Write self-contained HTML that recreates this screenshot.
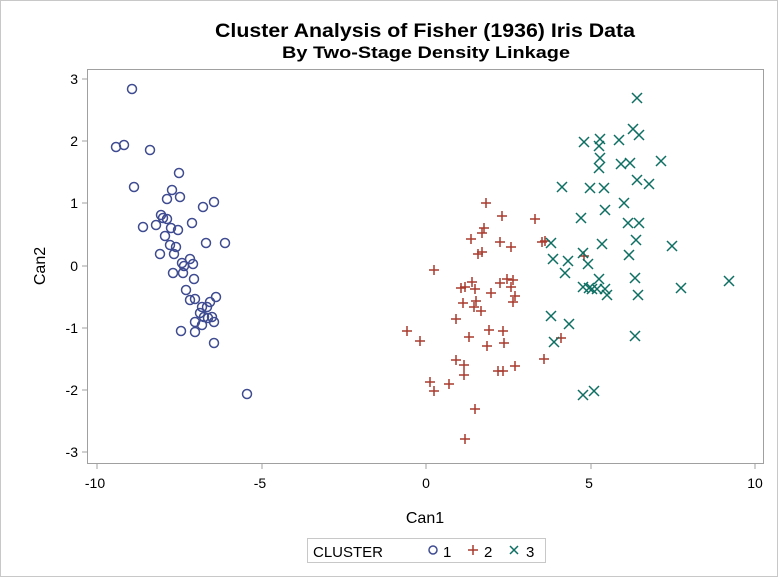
<!DOCTYPE html><html><head><style>body{margin:0;background:#fff}svg{display:block}</style></head><body>
<svg width="778" height="577" xmlns="http://www.w3.org/2000/svg" font-family="Liberation Sans, Arial, sans-serif">
<rect x="0.5" y="0.5" width="777" height="576" fill="#fff" stroke="#c8c8c8"/>
<text x="215" y="37" font-size="19" font-weight="bold" textLength="420" lengthAdjust="spacingAndGlyphs">Cluster Analysis of Fisher (1936) Iris Data</text>
<text x="282" y="58" font-size="17" font-weight="bold" textLength="288" lengthAdjust="spacingAndGlyphs">By Two-Stage Density Linkage</text>
<rect x="87.5" y="69.5" width="676" height="394" fill="none" stroke="#a0a0a0"/>
<g stroke="#a0a0a0">
<line x1="82" x2="87" y1="79" y2="79"/><line x1="82" x2="87" y1="141" y2="141"/><line x1="82" x2="87" y1="203" y2="203"/><line x1="82" x2="87" y1="266" y2="266"/><line x1="82" x2="87" y1="328" y2="328"/><line x1="82" x2="87" y1="390" y2="390"/><line x1="82" x2="87" y1="452" y2="452"/>
<line x1="97" x2="97" y1="464" y2="469"/><line x1="262" x2="262" y1="464" y2="469"/><line x1="426" x2="426" y1="464" y2="469"/><line x1="591" x2="591" y1="464" y2="469"/><line x1="755" x2="755" y1="464" y2="469"/>
</g>
<g font-size="14" text-anchor="end">
<text x="78" y="84">3</text><text x="78" y="146">2</text><text x="78" y="208">1</text><text x="78" y="271">0</text><text x="78" y="333">-1</text><text x="78" y="395">-2</text><text x="78" y="457">-3</text>
</g>
<g font-size="14" text-anchor="middle">
<text x="95" y="488">-10</text><text x="260" y="488">-5</text><text x="426" y="488">0</text><text x="589" y="488">5</text><text x="755" y="488">10</text>
<text x="425" y="523" font-size="16">Can1</text>
</g>
<text transform="translate(45,266) rotate(-90)" text-anchor="middle" font-size="16">Can2</text>
<g fill="none" stroke="#3f4c91" stroke-width="1.5" id="c1"></g>
<g stroke="#a83a2e" stroke-width="1.5" id="c2"></g>
<g stroke="#0d6e62" stroke-width="1.5" id="c3"></g>
<rect x="307.5" y="538.5" width="238" height="24" fill="#fff" stroke="#c8c8c8"/>
<text x="313" y="557" font-size="15">CLUSTER</text>
<circle cx="433" cy="550" r="4" fill="none" stroke="#3f4c91" stroke-width="1.5"/>
<text x="443" y="557" font-size="15">1</text>
<path d="M468 550h10M473 545v10" stroke="#a83a2e" stroke-width="1.5"/>
<text x="484" y="557" font-size="15">2</text>
<path d="M510 546l8 8M518 546l-8 8" stroke="#0d6e62" stroke-width="1.5"/>
<text x="526" y="557" font-size="15">3</text>
</svg>
<script>
var ns="http://www.w3.org/2000/svg";
var c1=[[116,147],[124,145],[132,89],[150,150],[134,187],[179,173],[172,190],[167,199],[180,197],[203,207],[214,202],[161,215],[163,218],[167,219],[143,227],[156,225],[192,223],[171,228],[178,230],[165,236],[170,245],[176,247],[160,254],[174,254],[206,243],[225,243],[190,259],[182,263],[193,264],[184,266],[173,273],[183,273],[194,279],[186,290],[190,300],[195,299],[216,297],[210,302],[202,307],[207,307],[200,313],[204,317],[212,317],[208,318],[195,322],[202,325],[214,322],[181,331],[195,332],[214,343],[247,394]];
var c2=[[486,203],[502,216],[535,219],[484,228],[482,233],[471,239],[500,242],[511,247],[542,242],[545,241],[478,254],[482,252],[434,270],[584,256],[472,282],[461,288],[465,287],[475,289],[500,283],[507,279],[513,280],[511,287],[491,293],[515,296],[513,302],[463,303],[476,301],[474,307],[481,311],[456,319],[407,331],[420,341],[469,337],[489,330],[503,331],[487,346],[504,343],[561,338],[544,359],[456,360],[464,365],[464,375],[498,371],[503,371],[515,366],[430,382],[449,384],[434,391],[475,409],[465,439]];
var c3=[[637,98],[633,129],[639,135],[584,142],[600,139],[599,146],[619,140],[600,158],[599,168],[621,164],[630,163],[661,161],[562,187],[590,188],[604,188],[637,180],[649,184],[624,203],[605,210],[581,218],[628,223],[639,223],[636,240],[602,244],[672,246],[551,243],[629,255],[553,259],[568,261],[583,253],[588,264],[565,273],[599,279],[635,278],[583,287],[589,288],[592,289],[597,289],[605,289],[607,295],[638,295],[681,288],[729,281],[551,316],[569,324],[554,342],[635,336],[583,395],[594,391]];
var g1=document.getElementById("c1"),g2=document.getElementById("c2"),g3=document.getElementById("c3");
c1.forEach(function(p){var e=document.createElementNS(ns,"circle");e.setAttribute("cx",p[0]);e.setAttribute("cy",p[1]);e.setAttribute("r",4.5);g1.appendChild(e);});
c2.forEach(function(p){var e=document.createElementNS(ns,"path");e.setAttribute("d","M"+(p[0]-5)+" "+p[1]+"h10M"+p[0]+" "+(p[1]-5)+"v10");g2.appendChild(e);});
c3.forEach(function(p){var e=document.createElementNS(ns,"path");e.setAttribute("d","M"+(p[0]-5)+" "+(p[1]-5)+"l10 10M"+(p[0]+5)+" "+(p[1]-5)+"l-10 10");g3.appendChild(e);});
</script>
</body></html>
